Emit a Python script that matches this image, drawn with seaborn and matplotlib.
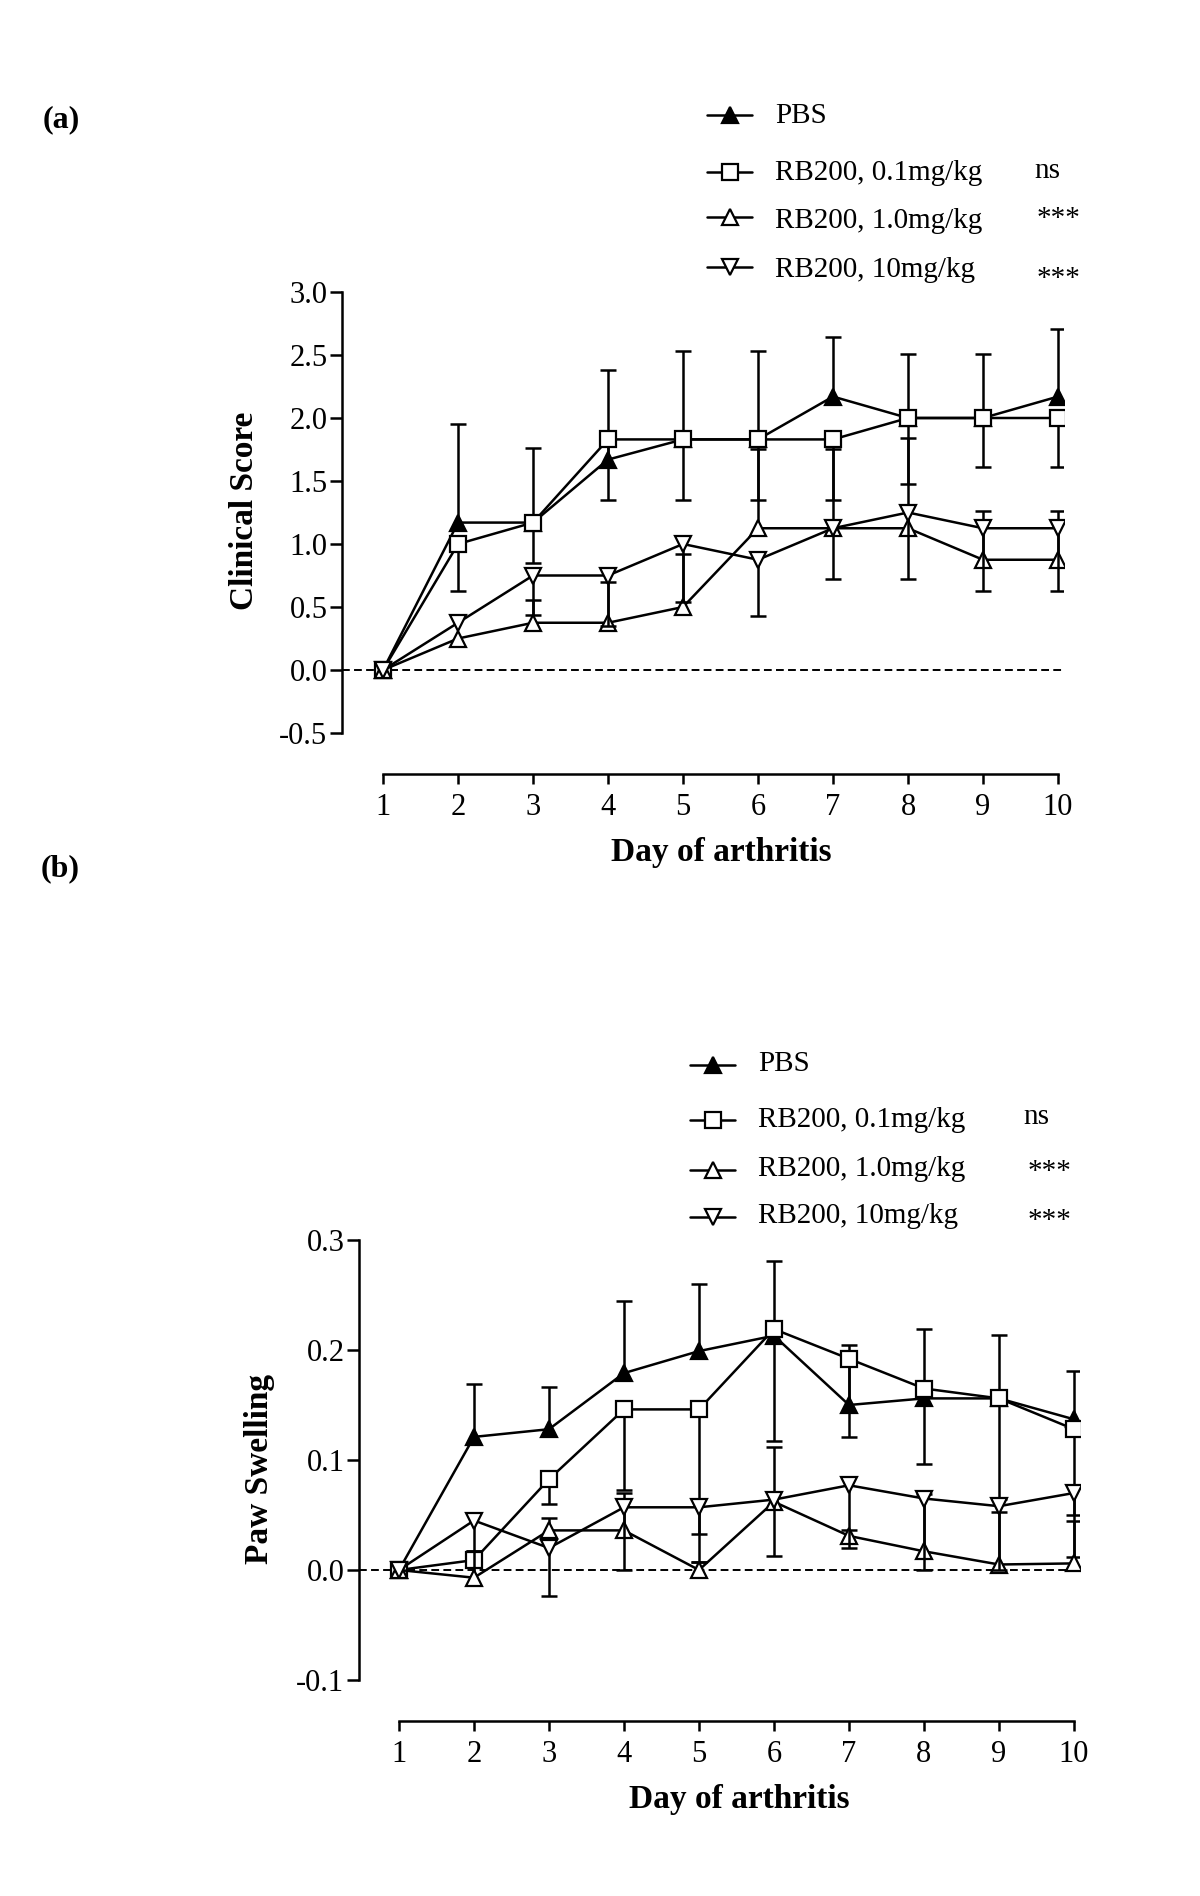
import numpy as np
import matplotlib
matplotlib.use("Agg")
import matplotlib.pyplot as plt
from matplotlib.lines import Line2D
from matplotlib.ticker import FormatStrFormatter
import seaborn as sns

# ---- data ----
days = list(range(1, 11))
groups = ["PBS", "RB200, 0.1mg/kg", "RB200, 1.0mg/kg", "RB200, 10mg/kg"]
signif = ["", "ns", "***", "***"]

# (a) clinical score: mean, SEM (one-sided bars as drawn)
score_pbs = [0, 1.17, 1.17, 1.67, 1.83, 1.83, 2.17, 2.0, 2.0, 2.17]
score_pbs_sem = [0, 0.78, 0.59, 0.71, 0.70, 0.70, 0.47, 0.51, 0.51, 0.54]
score_01 = [0, 1.0, 1.17, 1.83, 1.83, 1.83, 1.83, 2.0, 2.0, 2.0]
score_01_sem = [0, 0.37, 0.32, 0.48, 0.48, 0.48, 0.48, 0.52, 0.39, 0.39]
score_10 = [0, 0.25, 0.375, 0.375, 0.5, 1.125, 1.125, 1.125, 0.875, 0.875]
score_10_sem = [0, 0, 0.18, 0.325, 0.42, 0.63, 0.63, 0.72, 0.385, 0.385]
score_100 = [0, 0.375, 0.75, 0.75, 1.0, 0.875, 1.125, 1.25, 1.125, 1.125]
score_100_sem = [0, 0, 0.31, 0.40, 0.46, 0.45, 0.40, 0.53, 0.50, 0.50]

# (b) paw swelling
paw_pbs = [0, 0.121, 0.128, 0.179, 0.199, 0.213, 0.150, 0.156, 0.156, 0.137]
paw_pbs_sem = [0, 0.048, 0.038, 0.066, 0.061, 0.068, 0.055, 0.063, 0.058, 0.044]
paw_01 = [0, 0.009, 0.0825, 0.146, 0.146, 0.219, 0.192, 0.165, 0.156, 0.128]
paw_01_sem = [0, 0.004, 0.0225, 0.073, 0.113, 0.102, 0.071, 0.069, 0.091, 0.116]
paw_10 = [0, -0.007, 0.036, 0.036, 0.0, 0.062, 0.031, 0.017, 0.005, 0.006]
paw_10_sem = [0, 0.0245, 0.0115, 0.034, 0.0075, 0.050, 0.005, 0.052, 0.048, 0.039]
paw_100 = [0, 0.045, 0.02, 0.057, 0.057, 0.064, 0.077, 0.065, 0.058, 0.07]
paw_100_sem = [0, 0.0275, 0.044, 0.057, 0.05, 0.051, 0.057, 0.065, 0.058, 0.02]

# ---- style ----
sns.set_theme(style="ticks", rc={
    "axes.edgecolor": "black", "xtick.color": "black", "ytick.color": "black",
    "text.color": "black", "axes.labelcolor": "black",
})
plt.rcParams["font.family"] = ["Liberation Serif", "DejaVu Serif"]
plt.rcParams["axes.unicode_minus"] = False

markers = ["^", "s", "^", "v"]
faces = ["black", "white", "white", "white"]
err_dir = [1, -1, 1, -1]   # PBS/1.0 bars point up, 0.1/10 bars point down
LW = 1.8
MS = 12
CAP = 0.11

W, H = 1200, 1896
fig = plt.figure(figsize=(W / 100, H / 100), dpi=100)


def fx(px):
    return px / W


def fy(py):
    return 1 - py / H


def draw_panel(ax, means, sems, ylim, yticks, ylabel, xlim, ylab_xy, xlab_xy):
    x = np.array(days, dtype=float)
    ax.axhline(0, color="black", lw=1.4, ls=(0, (4, 2.2)), zorder=1)
    for i, (m, e) in enumerate(zip(means, sems)):
        m = np.array(m)
        e = np.array(e)
        tip = m + err_dir[i] * e
        ok = e > 0
        ax.vlines(x[ok], m[ok], tip[ok], color="black", lw=LW, zorder=2 + 2 * i)
        ax.hlines(tip[ok], x[ok] - CAP, x[ok] + CAP, color="black", lw=LW, zorder=2 + 2 * i)
        sns.lineplot(x=days, y=m, ax=ax, color="black", lw=LW, marker=markers[i],
                     markersize=MS, markerfacecolor=faces[i], markeredgecolor="black",
                     markeredgewidth=1.6, zorder=3 + 2 * i, legend=False)
    ax.set_xlim(*xlim)
    ax.set_ylim(*ylim)
    ax.set_yticks(yticks)
    ax.set_xticks(days)
    ax.yaxis.set_major_formatter(FormatStrFormatter("%.1f"))
    for s in ["top", "right"]:
        ax.spines[s].set_visible(False)
    ax.spines["left"].set_bounds(ylim[0], ylim[1])
    ax.spines["bottom"].set_bounds(1, 10)
    ax.spines["bottom"].set_position(("outward", 29.5))
    for s in ["left", "bottom"]:
        ax.spines[s].set_linewidth(LW)
    ax.tick_params(axis="y", direction="out", length=8.5, width=LW, labelsize=22, pad=2)
    ax.tick_params(axis="x", direction="out", length=7, width=LW, labelsize=22, pad=7)
    ax.set_ylabel(ylabel, fontsize=24, fontweight="bold")
    ax.set_xlabel("Day of arthritis", fontsize=24, fontweight="bold")
    ax.yaxis.set_label_coords(*ylab_xy)
    ax.xaxis.set_label_coords(*xlab_xy)


def draw_key(x_line, x_text, mark_y, base_y, x_sig, sig_base):
    for i, g in enumerate(groups):
        fig.add_artist(Line2D([fx(x_line[0]), fx(x_line[1])], [fy(mark_y[i])] * 2,
                              transform=fig.transFigure, color="black", lw=LW))
        fig.add_artist(Line2D([fx((x_line[0] + x_line[1]) / 2)], [fy(mark_y[i])],
                              transform=fig.transFigure, marker=markers[i], ms=MS,
                              mfc=faces[i], mec="black", mew=1.6, ls="none"))
        fig.text(fx(x_text), fy(base_y[i]), g, fontsize=21, va="baseline", ha="left")
        if signif[i]:
            fig.text(fx(x_sig[i]), fy(sig_base[i]), signif[i], fontsize=21,
                     va="baseline", ha="left")


# panel (a)
ax1 = fig.add_axes([fx(342), fy(733), fx(1064) - fx(342), fy(292) - fy(733)])
draw_panel(ax1,
           [score_pbs, score_01, score_10, score_100],
           [score_pbs_sem, score_01_sem, score_10_sem, score_100_sem],
           (-0.5, 3.0), np.arange(-0.5, 3.01, 0.5), "Clinical Score",
           (0.453, 10.08), (-0.113, 0.503), (0.525, -0.236))
draw_key((707, 752), 775, [115, 172, 217, 267], [123, 180, 228, 277],
         [0, 1034, 1037, 1037], [0, 178, 226, 286])

# panel (b)
ax2 = fig.add_axes([fx(359), fy(1680), fx(1080) - fx(359), fy(1240) - fy(1680)])
draw_panel(ax2,
           [paw_pbs, paw_01, paw_10, paw_100],
           [paw_pbs_sem, paw_01_sem, paw_10_sem, paw_100_sem],
           (-0.1, 0.3), [-0.1, 0.0, 0.1, 0.2, 0.3], "Paw Swelling",
           (0.467, 10.08), (-0.1165, 0.48), (0.527, -0.237))
draw_key((690, 735), 758, [1065, 1120, 1170, 1217], [1071, 1127, 1176, 1223],
         [0, 1023, 1028, 1028], [0, 1124, 1179, 1228])

fig.text(fx(61), fy(120), "(a)", fontsize=23, fontweight="bold", ha="center", va="center")
fig.text(fx(60), fy(869), "(b)", fontsize=23, fontweight="bold", ha="center", va="center")

fig.savefig("out.png", dpi=100, facecolor="white")
